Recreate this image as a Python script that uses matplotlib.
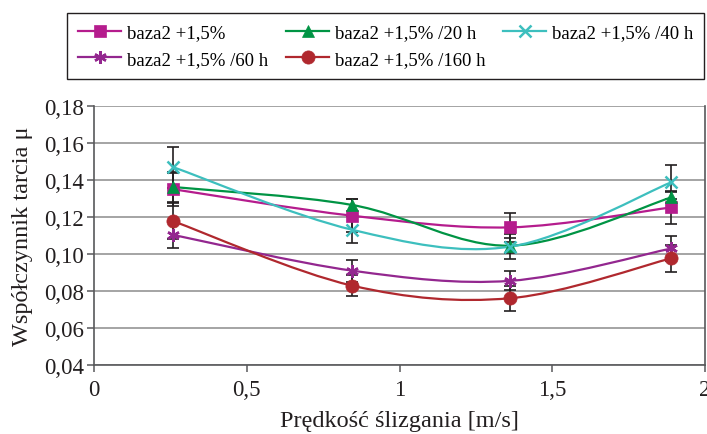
import matplotlib
matplotlib.use("Agg")
import matplotlib.pyplot as plt
import numpy as np
from matplotlib.path import Path
from matplotlib.patches import PathPatch
from matplotlib.lines import Line2D

plt.rcParams['font.family'] = ['Liberation Serif', 'DejaVu Serif']

# --- dane ---
predkosc = [0.26, 0.845, 1.363, 1.89]

serie = ["baza2 +1,5%", "baza2 +1,5% /20 h", "baza2 +1,5% /40 h",
         "baza2 +1,5% /60 h", "baza2 +1,5% /160 h"]
wartosci = [
    [0.1350, 0.1207, 0.1144, 0.1252],
    [0.1362, 0.1265, 0.1045, 0.1306],
    [0.1469, 0.1131, 0.1040, 0.1388],
    [0.1103, 0.0910, 0.0855, 0.1030],
    [0.1177, 0.0829, 0.0761, 0.0977],
]
bledy = [
    [0.0090, 0.0090, 0.0080, 0.0090],
    [0.0080, 0.0030, 0.0040, 0.0030],
    [0.0110, 0.0073, 0.0068, 0.0093],
    [0.0072, 0.0060, 0.0052, 0.0068],
    [0.0097, 0.0058, 0.0067, 0.0074],
]
kolory = ["#B51C8D", "#009444", "#3DBFBE", "#93278F", "#B0282E"]
markery = ["s", "^", "x", (6, 2, 0), "o"]
rozmiary = [8.5, 9, 9, 9, 9.5]

yticks = [0.04, 0.06, 0.08, 0.10, 0.12, 0.14, 0.16, 0.18]
ytick_labels = ["0,04", "0,06", "0,08", "0,10", "0,12", "0,14", "0,16", "0,18"]
xticks = [0, 0.5, 1, 1.5, 2]
xtick_labels = ["0", "0,5", "1", "1,5", "2"]


def smooth_path(xs, ys):
    # wygładzanie w stylu Excela (Bezier, Catmull-Rom)
    pts = np.column_stack([xs, ys])
    n = len(pts)
    verts = [pts[0]]
    codes = [Path.MOVETO]
    for i in range(n - 1):
        p0 = pts[i - 1] if i > 0 else pts[i]
        p1 = pts[i]
        p2 = pts[i + 1]
        p3 = pts[i + 2] if i + 2 < n else pts[i + 1]
        c1 = p1 + (p2 - p0) / 6.0
        c2 = p2 - (p3 - p1) / 6.0
        verts += [c1, c2, p2]
        codes += [Path.CURVE4] * 3
    return Path(verts, codes)


fig = plt.figure(figsize=(7.07, 4.35), dpi=100)
ax = fig.add_axes([94 / 707, 1 - 366 / 435, 611 / 707, 259 / 435])

# słupki błędów
for vals, errs in zip(wartosci, bledy):
    ax.errorbar(predkosc, vals, yerr=errs, fmt='none', ecolor='#231F20',
                elinewidth=1.2, capsize=4, capthick=1.2, zorder=3)

handles = []
for name, vals, c, m, ms in zip(serie, wartosci, kolory, markery, rozmiary):
    ax.add_patch(PathPatch(smooth_path(predkosc, vals), facecolor='none',
                           edgecolor=c, lw=1.6, zorder=4))
    mew = 1.8 if m in ("x", (6, 2, 0)) else 0.5
    ax.plot(predkosc, vals, linestyle='none', marker=m, ms=ms, color=c,
            mec=c, mew=mew, zorder=5)
    handles.append(Line2D([], [], color=c, lw=1.6, marker=m, ms=ms,
                          mec=c, mew=mew, label=name))

ax.set_xlim(0, 2)
ax.set_ylim(0.04, 0.18)
ax.set_yticks(yticks)
ax.set_yticklabels(ytick_labels)
ax.set_xticks(xticks)
ax.set_xticklabels(xtick_labels)
ax.yaxis.grid(True, color='#8C8C8C', lw=1.1)
ax.set_axisbelow(True)
for s in ['left', 'bottom', 'right']:
    ax.spines[s].set_color('#58595B')
    ax.spines[s].set_linewidth(1.2)
ax.spines['top'].set_visible(False)
ax.tick_params(axis='both', colors='#58595B', labelcolor='#231F20',
               labelsize=16.5, length=5, width=1.1, direction='out')
ax.tick_params(axis='x', pad=5)
ax.tick_params(axis='y', pad=2)

ax.set_xlabel("Prędkość ślizgania [m/s]", fontsize=17.5, color='#231F20', labelpad=7)
ax.set_ylabel("Współczynnik tarcia μ", fontsize=17.5, color='#231F20', labelpad=8)

# kolejność w legendzie wierszami: 3 kolumny
kolejnosc = [0, 3, 1, 4, 2]
leg = fig.legend(handles=[handles[i] for i in kolejnosc], ncol=3, loc='upper left',
                 bbox_to_anchor=(67 / 707, 1 - 14 / 435), fontsize=13.5,
                 frameon=True, fancybox=False, framealpha=1, edgecolor='#231F20',
                 handlelength=2.3, handletextpad=0.3, columnspacing=0.95,
                 borderpad=0.6, labelspacing=0.5, borderaxespad=0)
leg.get_frame().set_linewidth(1.0)

fig.savefig("out.png", dpi=100)
